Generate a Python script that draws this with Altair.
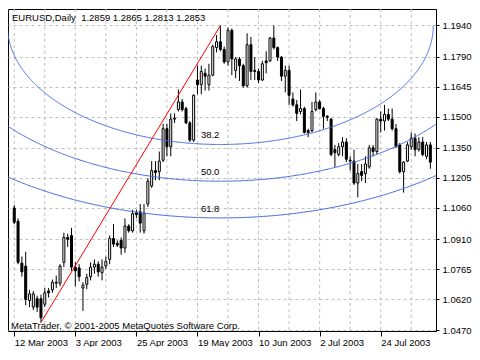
import altair as alt
import numpy as np
import pandas as pd

# ---- EURUSD daily bars, one per trading day starting 12 Mar 2003 ----
opens = [1.1060, 1.0996, 1.0794, 1.0780, 1.0614, 1.0582, 1.0623, 1.0623, 1.0596, 1.0660,
         1.0665, 1.0697, 1.0697, 1.0798, 1.0918, 1.0927, 1.0775, 1.0771, 1.0674, 1.0692,
         1.0729, 1.0775, 1.0789, 1.0748, 1.0780, 1.0812, 1.0913, 1.0890, 1.0904, 1.0867,
         1.0973, 1.0950, 1.1037, 1.1042, 1.0950, 1.1079, 1.1166, 1.1240, 1.1235, 1.1290,
         1.1442, 1.1355, 1.1488, 1.1534, 1.1571, 1.1539, 1.1470, 1.1387, 1.1677, 1.1654,
         1.1709, 1.1654, 1.1700, 1.1833, 1.1861, 1.1824, 1.1764, 1.1916, 1.1723, 1.1778,
         1.1746, 1.1649, 1.1847, 1.1723, 1.1718, 1.1677, 1.1769, 1.1769, 1.1879, 1.1833,
         1.1787, 1.1695, 1.1723, 1.1585, 1.1557, 1.1525, 1.1539, 1.1433, 1.1433, 1.1534,
         1.1571, 1.1539, 1.1502, 1.1488, 1.1341, 1.1318, 1.1355, 1.1378, 1.1290, 1.1286,
         1.1180, 1.1235, 1.1226, 1.1258, 1.1350, 1.1332, 1.1488, 1.1479, 1.1511, 1.1488,
         1.1442, 1.1364, 1.1235, 1.1286, 1.1355, 1.1396, 1.1341, 1.1378, 1.1309, 1.1364]
highs = [1.1074, 1.1010, 1.0826, 1.0849, 1.0665, 1.0660, 1.0637, 1.0642, 1.0674, 1.0674,
         1.0715, 1.0734, 1.0789, 1.0941, 1.0936, 1.0964, 1.0798, 1.0789, 1.0702, 1.0743,
         1.0798, 1.0812, 1.0803, 1.0812, 1.0826, 1.0927, 1.0982, 1.0904, 1.0918, 1.1010,
         1.0982, 1.1051, 1.1051, 1.1079, 1.1079, 1.1203, 1.1286, 1.1286, 1.1332, 1.1465,
         1.1465, 1.1516, 1.1516, 1.1631, 1.1585, 1.1548, 1.1479, 1.1608, 1.1746, 1.1746,
         1.1732, 1.1755, 1.1847, 1.1893, 1.1939, 1.1838, 1.1930, 1.1925, 1.1787, 1.1787,
         1.1755, 1.1902, 1.1884, 1.1787, 1.1732, 1.1769, 1.1815, 1.1884, 1.1939, 1.1838,
         1.1792, 1.1746, 1.1746, 1.1617, 1.1580, 1.1631, 1.1548, 1.1442, 1.1571, 1.1617,
         1.1580, 1.1548, 1.1507, 1.1493, 1.1364, 1.1373, 1.1401, 1.1396, 1.1309, 1.1341,
         1.1272, 1.1272, 1.1309, 1.1364, 1.1364, 1.1493, 1.1525, 1.1557, 1.1539, 1.1539,
         1.1465, 1.1373, 1.1286, 1.1378, 1.1424, 1.1419, 1.1401, 1.1401, 1.1378, 1.1378]
lows = [1.0982, 1.0789, 1.0729, 1.0591, 1.0582, 1.0568, 1.0559, 1.0508, 1.0582, 1.0628,
        1.0651, 1.0674, 1.0683, 1.0775, 1.0872, 1.0757, 1.0683, 1.0706, 1.0564, 1.0669,
        1.0711, 1.0743, 1.0729, 1.0711, 1.0766, 1.0789, 1.0872, 1.0872, 1.0835, 1.0844,
        1.0941, 1.0941, 1.1010, 1.0941, 1.0936, 1.1065, 1.1157, 1.1194, 1.1194, 1.1281,
        1.1309, 1.1309, 1.1470, 1.1525, 1.1525, 1.1465, 1.1378, 1.1378, 1.1608, 1.1608,
        1.1626, 1.1626, 1.1695, 1.1810, 1.1815, 1.1755, 1.1746, 1.1700, 1.1686, 1.1672,
        1.1640, 1.1640, 1.1677, 1.1677, 1.1663, 1.1672, 1.1709, 1.1764, 1.1824, 1.1769,
        1.1672, 1.1617, 1.1557, 1.1548, 1.1479, 1.1511, 1.1419, 1.1401, 1.1424, 1.1525,
        1.1534, 1.1442, 1.1479, 1.1309, 1.1258, 1.1309, 1.1309, 1.1281, 1.1240, 1.1171,
        1.1111, 1.1189, 1.1180, 1.1249, 1.1309, 1.1318, 1.1424, 1.1433, 1.1479, 1.1433,
        1.1350, 1.1226, 1.1134, 1.1281, 1.1341, 1.1309, 1.1332, 1.1309, 1.1295, 1.1249]
closes = [1.0991, 1.0798, 1.0752, 1.0619, 1.0646, 1.0646, 1.0582, 1.0531, 1.0651, 1.0651,
          1.0702, 1.0702, 1.0780, 1.0918, 1.0909, 1.0775, 1.0757, 1.0729, 1.0688, 1.0725,
          1.0775, 1.0789, 1.0752, 1.0775, 1.0803, 1.0913, 1.0886, 1.0881, 1.0867, 1.0973,
          1.0950, 1.1033, 1.1028, 1.0987, 1.1033, 1.1189, 1.1240, 1.1231, 1.1286, 1.1442,
          1.1355, 1.1488, 1.1493, 1.1571, 1.1534, 1.1470, 1.1387, 1.1603, 1.1654, 1.1718,
          1.1695, 1.1700, 1.1838, 1.1861, 1.1824, 1.1764, 1.1916, 1.1778, 1.1778, 1.1746,
          1.1649, 1.1847, 1.1718, 1.1718, 1.1677, 1.1755, 1.1760, 1.1879, 1.1833, 1.1787,
          1.1695, 1.1723, 1.1603, 1.1557, 1.1516, 1.1539, 1.1424, 1.1424, 1.1525, 1.1571,
          1.1539, 1.1502, 1.1497, 1.1318, 1.1327, 1.1355, 1.1378, 1.1295, 1.1286, 1.1180,
          1.1226, 1.1217, 1.1272, 1.1350, 1.1332, 1.1488, 1.1479, 1.1511, 1.1488, 1.1442,
          1.1355, 1.1235, 1.1281, 1.1364, 1.1396, 1.1341, 1.1378, 1.1318, 1.1364, 1.1281]

# ---- axis texts ----
date_tick_index = [0, 16, 32, 48, 64, 80, 96]
date_tick_labels = ["12 Mar 2003", "3 Apr 2003", "25 Apr 2003", "19 May 2003",
                    "10 Jun 2003", "2 Jul 2003", "24 Jul 2003"]
grid_index = [0, 8, 16, 24, 32, 40, 48, 56, 64, 72, 80, 88, 96, 104]
price_ticks = [1.0470, 1.0620, 1.0765, 1.0910, 1.1060, 1.1205,
               1.1350, 1.1500, 1.1645, 1.1790, 1.1940]

# ---- Fibonacci arcs ----
fib_levels = [0.382, 0.500, 0.618]
fib_names = ["38.2", "50.0", "61.8"]
trend_from, trend_to = 7, 54          # bar of the low, bar of the high
arc_bars, arc_price = 146.0, 0.1500   # half-axes of the 100 % arc

header = "EURUSD,Daily\u00a0\u00a01.2859 1.2865 1.2813 1.2853"
footer = "MetaTrader, \u00a9 2001-2005 MetaQuotes Software Corp."

X_DOMAIN = [-0.325, 109.175]
Y_DOMAIN = [1.0467, 1.2019]
FONT = "Liberation Sans"
FS = 9.5
W, H = 428, 322

# ---- tables ----
n = len(opens)
df = pd.DataFrame({"i": list(range(n)), "open": opens, "high": highs,
                   "low": lows, "close": closes})
df["top"] = df[["open", "close"]].max(axis=1)
df["bot"] = df[["open", "close"]].min(axis=1)

cx, cy = trend_to, highs[trend_to]
theta = np.linspace(0, np.pi, 721)
arc_rows = []
for lvl, name in zip(fib_levels, fib_names):
    for k, t in enumerate(theta):
        arc_rows.append({"level": name, "k": k,
                         "x": cx + arc_bars * lvl * np.cos(t),
                         "y": cy - arc_price * lvl * np.sin(t)})
arc_df = pd.DataFrame(arc_rows)

lab_df = pd.DataFrame({"x": [cx] * 3,
                       "y": [cy - arc_price * l for l in fib_levels],
                       "t": fib_names})
trend_df = pd.DataFrame({"x": [trend_from, trend_to],
                         "y": [lows[trend_from], highs[trend_to]]})

xs = alt.Scale(domain=X_DOMAIN, nice=False, zero=False)
ys = alt.Scale(domain=Y_DOMAIN, nice=False, zero=False)

expr = "''"
for v, lab in reversed(list(zip(date_tick_index, date_tick_labels))):
    expr = f"datum.value == {v} ? '{lab}' : ({expr})"

x_axis = alt.Axis(values=date_tick_index, labelExpr=expr, grid=False, title=None,
                  tickSize=5, tickColor="black", domainColor="black",
                  labelAlign="left", labelBaseline="top", labelPadding=1,
                  labelFont=FONT, labelFontSize=FS, labelColor="black",
                  labelOverlap=False, labelBound=False, labelFlush=False)
y_axis = alt.Axis(orient="right", values=price_ticks, format=".4f", title=None,
                  grid=True, gridColor="#c0c0c0", gridDash=[3, 3], gridWidth=1,
                  tickSize=3, tickColor="black", domainColor="black", labelPadding=3,
                  labelFont=FONT, labelFontSize=FS, labelColor="black",
                  labelOverlap=False, labelBound=False, labelFlush=False)


def X(field):
    return alt.X(field, scale=xs, axis=x_axis)


def Y(field):
    return alt.Y(field, scale=ys, axis=y_axis)


vgrid = alt.Chart(pd.DataFrame({"g": grid_index})).mark_rule(
    color="#c0c0c0", strokeDash=[3, 3], strokeWidth=1
).encode(x=X("g:Q"))

wicks = alt.Chart(df).mark_rule(color="black", strokeWidth=1).encode(
    x=X("i:Q"), y=Y("low:Q"), y2="high:Q",
)

bodies = alt.Chart(df).mark_bar(width=2, stroke="black", strokeWidth=1).encode(
    x=X("i:Q"), y=Y("bot:Q"), y2="top:Q",
    fill=alt.condition("datum.close >= datum.open", alt.value("white"), alt.value("black")),
)

arcs = alt.Chart(arc_df).mark_line(color="#4169e1", strokeWidth=1, clip=True).encode(
    x=X("x:Q"), y=Y("y:Q"), detail="level:N", order="k:Q",
)

trend = alt.Chart(trend_df).mark_line(color="#ff0000", strokeWidth=1).encode(
    x=X("x:Q"), y=Y("y:Q"),
)

fib_text = alt.Chart(lab_df).mark_text(
    align="right", baseline="alphabetic", dx=-1, dy=-6,
    font=FONT, fontSize=FS, color="black"
).encode(x=X("x:Q"), y=Y("y:Q"), text="t:N")

head = alt.Chart(pd.DataFrame({"t": [header]})).mark_text(
    align="left", baseline="alphabetic", font=FONT, fontSize=FS, color="black"
).encode(x=alt.value(4), y=alt.value(12), text="t:N")

foot = alt.Chart(pd.DataFrame({"t": [footer]})).mark_text(
    align="left", baseline="alphabetic", font=FONT, fontSize=FS, color="black"
).encode(x=alt.value(3), y=alt.value(H - 2), text="t:N")

chart = alt.layer(vgrid, wicks, bodies, arcs, trend, fib_text, head, foot).properties(
    width=W, height=H, padding=0, background="white"
).configure_view(stroke="black", strokeWidth=1)

chart.save("out.html", embed_options={"renderer": "svg", "actions": False})
